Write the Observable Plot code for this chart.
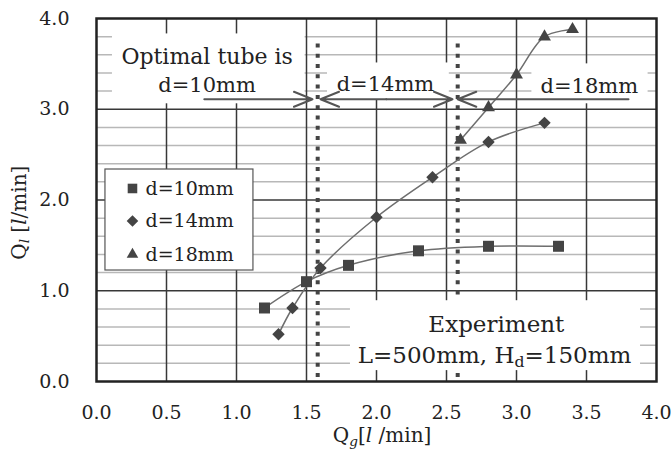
<!DOCTYPE html>
<html><head><meta charset="utf-8">
<script src="https://cdn.jsdelivr.net/npm/d3@7"></script>
<script src="https://cdn.jsdelivr.net/npm/@observablehq/plot@0.6"></script>
<style>html,body{margin:0;padding:0;background:#fff;}</style>
</head><body><div id="chart"></div>
<script>
// ---- data ----
const xTicks = [0, 0.5, 1, 1.5, 2, 2.5, 3, 3.5, 4];
const yTicks = [0, 1, 2, 3, 4];
const yMinorTicks = [0.2,0.4,0.6,0.8,1.2,1.4,1.6,1.8,2.2,2.4,2.6,2.8,3.2,3.4,3.6,3.8];
const seriesNames = ["d=10mm", "d=14mm", "d=18mm"];
const qg10 = [1.2, 1.5, 1.8, 2.3, 2.8, 3.3];
const ql10 = [0.81, 1.10, 1.28, 1.44, 1.49, 1.49];
const qg14 = [1.3, 1.4, 1.6, 2.0, 2.4, 2.8, 3.2];
const ql14 = [0.52, 0.81, 1.25, 1.81, 2.25, 2.64, 2.85];
const qg18 = [2.6, 2.8, 3.0, 3.2, 3.4];
const ql18 = [2.66, 3.02, 3.38, 3.80, 3.88];
const boundaries = [1.58, 2.58];

const rows = [];
[[qg10, ql10], [qg14, ql14], [qg18, ql18]].forEach(([xs, ys], k) =>
  xs.forEach((x, i) => rows.push({series: seriesNames[k], qg: x, ql: ys[i]})));

// ---- styles / layout ----
const ink = "#222";
const markFill = "#444";
const font = "DejaVu Serif";
const dotR = {"d=10mm": 6.2, "d=14mm": 5.6, "d=18mm": 4.8};
const legendR = {"d=10mm": 5.4, "d=14mm": 5.2, "d=18mm": 4.3};
const legendRowY = [2.127, 1.769, 1.40];
const boxes = [
  {x1: 0.114, x2: 1.49, y1: 3.06, y2: 3.83},
  {x1: 1.65, x2: 2.52, y1: 3.10, y2: 3.51},
  {x1: 3.11, x2: 3.94, y1: 3.06, y2: 3.50},
  {x1: 1.814, x2: 3.886, y1: 0.12, y2: 0.89}
];
const arrows = [
  {x1: 0.77, x2: 1.543},
  {x1: 2.07, x2: 1.60},
  {x1: 2.07, x2: 2.543},
  {x1: 3.80, x2: 2.58}
];
const arrowY = 3.11;
const notes = [
  {t: "Optimal tube is", x: 0.79, y: 3.58, fs: 22},
  {t: "d=10mm", x: 0.79, y: 3.26, fs: 21},
  {t: "d=14mm", x: 2.064, y: 3.28, fs: 21},
  {t: "d=18mm", x: 3.52, y: 3.25, fs: 21},
  {t: "Experiment", x: 2.856, y: 0.63, fs: 23},
  {t: "L=500mm, H~d~=150mm", x: 2.843, y: 0.287, fs: 23}
];

const marks = [
  Plot.ruleY(yMinorTicks, {stroke: "#b8b8b8", strokeWidth: 1.5}),
  Plot.ruleX(xTicks.slice(1, -1), {stroke: "#383838", strokeWidth: 1.5}),
  Plot.ruleY(yTicks.slice(1, -1), {stroke: "#383838", strokeWidth: 1.5}),
  Plot.ruleX(boundaries, {x: d => d, y1: 3.72, y2: 0, stroke: "#444", strokeWidth: 4, strokeDasharray: "4,6.3"}),
  Plot.rect(boxes, {x1: "x1", x2: "x2", y1: "y1", y2: "y2", fill: "white"}),
  Plot.frame({stroke: ink, strokeWidth: 2.5}),
  Plot.line(rows, {x: "qg", y: "ql", z: "series", curve: "catmull-rom", stroke: "#6e6e6e", strokeWidth: 1.5}),
  ...seriesNames.map(s => Plot.dot(rows, {filter: d => d.series === s, x: "qg", y: "ql", symbol: "series", r: dotR[s], fill: markFill})),
  Plot.arrow(arrows, {x1: "x1", x2: "x2", y1: arrowY, y2: arrowY, stroke: "#555", strokeWidth: 2, headLength: 15, headAngle: 44}),
  ...notes.map(n => Plot.text([n], {x: "x", y: "y", text: "t", fontSize: n.fs, fill: ink, textAnchor: "middle", lineAnchor: "middle"})),
  Plot.rect([0], {x1: 0.064, x2: 1.121, y1: 1.223, y2: 2.336, fill: "white", stroke: "#555", strokeWidth: 1.2}),
  ...seriesNames.map((s, i) => Plot.dot([s], {x: 0.257, y: legendRowY[i], symbol: d => d, r: legendR[s], fill: markFill})),
  Plot.text(seriesNames, {x: 0.35, y: (d, i) => legendRowY[i], text: d => d, textAnchor: "start", lineAnchor: "middle", fontSize: 19, fill: ink}),
  Plot.axisX({ticks: xTicks, tickFormat: d3.format(".1f"), tickSize: 0, tickPadding: 24, fontSize: 19, fill: ink, label: null}),
  Plot.axisY({ticks: yTicks, tickFormat: d3.format(".1f"), tickSize: 0, tickPadding: 27, fontSize: 19, fill: ink, label: null}),
  Plot.text(["Q_g_[*l* /min]"], {x: 2.04, y: -0.6, text: d => d, fontSize: 20, fill: ink, textAnchor: "middle", lineAnchor: "middle"}),
  Plot.text(["Q_l_ [*l*/min]"], {x: -0.55, y: 1.86, text: d => d, rotate: -90, fontSize: 20, fill: ink, textAnchor: "middle", lineAnchor: "middle"})
];

const plot = Plot.plot({
  width: 672, height: 452,
  marginLeft: 96, marginRight: 16, marginTop: 18, marginBottom: 71,
  x: {domain: [0, 4]},
  y: {domain: [0, 4]},
  symbol: {domain: seriesNames, range: ["square", "diamond2", "triangle"]},
  style: {fontFamily: font, fontSize: "19px", background: "#fff", color: ink, overflow: "visible"},
  marks
});

// rich text: ~sub~ upright subscript, _sub_ italic subscript, *it* italic
d3.select(plot).selectAll("text").each(function () {
  const s = this.textContent;
  if (!/[~_*]/.test(s)) return;
  const parts = s.split(/(~[^~]*~|_[^_]*_|\*[^*]*\*)/).filter(p => p.length);
  this.textContent = "";
  const sel = d3.select(this);
  let afterSub = false;
  const k = 0.68, off = 0.25;
  for (const p of parts) {
    const t = sel.append("tspan");
    if (afterSub) { t.attr("dy", `${-off * k}em`); afterSub = false; }
    if (p[0] === "~" || p[0] === "_") {
      t.text(p.slice(1, -1)).attr("font-size", `${k}em`).attr("dy", `${off}em`);
      if (p[0] === "_") t.attr("font-style", "italic");
      afterSub = true;
    } else if (p[0] === "*") {
      t.text(p.slice(1, -1)).attr("font-style", "italic");
    } else {
      t.text(p);
    }
  }
});

document.getElementById("chart").appendChild(plot);
</script>
</body></html>
